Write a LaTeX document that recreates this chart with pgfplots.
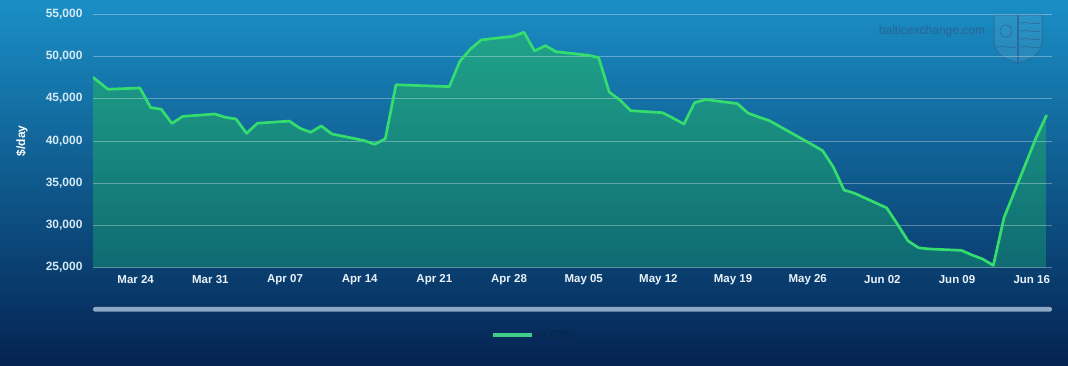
\documentclass[border=0pt]{standalone}
\usepackage{pgfplots}
\pgfplotsset{compat=1.18}
\usepackage{pgfplotstable}
\usepackage{fontspec}
\setmainfont{Liberation Sans}

\definecolor{bgtop}{HTML}{1A8FC6}
\definecolor{bgmid}{HTML}{10588C}
\definecolor{bgbot}{HTML}{042352}
\definecolor{filltop}{HTML}{20A38A}
\definecolor{fillbot}{HTML}{0F6B72}
\definecolor{linecol}{HTML}{35DC6E}
\definecolor{legline}{HTML}{3FCB8A}
\definecolor{legtext}{HTML}{0B2447}
\definecolor{ytl}{HTML}{D5E9F5}
\definecolor{xtl}{HTML}{EAF2F8}
\definecolor{wm}{HTML}{2A6494}
\definecolor{scroll}{HTML}{8DA7C6}

\pgfplotstableread{
d v
-4.4 47540
-3 46120
0 46270
1 43960
2 43750
3 42070
4 42900
7 43190
8 42800
9 42600
10 40900
11 42090
14 42350
15 41500
16 41020
17 41770
18 40820
21 40050
22 39600
23 40250
24 46650
29 46430
30 49450
31 50900
32 51970
35 52400
36 52870
37 50650
38 51290
39 50570
42 50150
43 49870
44 45770
45 44850
46 43580
49 43340
50 42680
51 42000
52 44530
53 44900
56 44420
57 43300
58 42830
59 42400
60 41700
63 39570
64 38840
65 36900
66 34180
67 33790
70 32070
71 30150
72 28150
73 27330
74 27200
77 27030
78 26480
79 26000
80 25250
81 30900
84 40350
85 43070
}\vltce

\pgfplotsset{
  base/.style={
    scale only axis, width=959pt, height=253.2pt,
    at={(93pt,97.5pt)}, anchor=south west,
    xmin=-4.4, xmax=85.5, ymin=25000, ymax=55000,
    scaled y ticks=false, scaled x ticks=false,
  }
}

\begin{document}
\begin{tikzpicture}
\begin{scope}[x=1pt,y=1pt]
\useasboundingbox (0,0) rectangle (1068,365);
\shade[top color=bgtop, middle color=bgmid, bottom color=bgbot] (0,0) rectangle (1068,365);
% watermark
\node[text=wm, font=\fontsize{12}{14}\selectfont, inner sep=0pt] at (932,333.5) {balticexchange.com};
% shield logo (decorative)
\path[fill=white, fill opacity=0.08, draw=wm, draw opacity=0.7, line width=1pt]
  (994,350) -- (1042,350) -- (1042,324) .. controls (1042,311) and (1030,305) .. (1018,302)
  .. controls (1006,305) and (994,311) .. (994,324) -- cycle;
\draw[wm, line width=1.2pt, opacity=0.8] (1018,350) -- (1018,302);
\foreach \yy in {342,334,326,318}{
  \draw[wm, line width=0.8pt, opacity=0.7] (1020,\yy) .. controls (1026,\yy+2) and (1032,\yy-2) .. (1040,\yy);
}
\draw[wm, line width=0.8pt, opacity=0.7] (1006,334) circle (6);
\draw[wm, line width=0.8pt, opacity=0.7] (996,318) .. controls (1002,320) and (1010,316) .. (1016,318);
% scrollbar
\fill[scroll, rounded corners=2.3pt] (93,53.3) rectangle (1052,58.1);
\end{scope}

% axis 1: area fill
\begin{axis}[base, hide axis]
\addplot[draw=none, top color=filltop, bottom color=fillbot]
  table[x=d, y=v]{\vltce} -- (axis cs:85,25000) -- (axis cs:-4.4,25000) -- cycle;
\end{axis}

% axis 2: grid, labels, line, legend
\begin{axis}[base,
  axis line style={draw=none},
  tick style={draw=none},
  ytick={25000,30000,35000,40000,45000,50000,55000},
  yticklabels={{25,000},{30,000},{35,000},{40,000},{45,000},{50,000},{55,000}},
  xtick={-0.4,6.6,13.6,20.6,27.6,34.6,41.6,48.6,55.6,62.6,69.6,76.6,83.6},
  xticklabels={Mar 24,Mar 31,Apr 07,Apr 14,Apr 21,Apr 28,May 05,May 12,May 19,May 26,Jun 02,Jun 09,Jun 16},
  ymajorgrids,
  major grid style={white, opacity=0.32, line width=0.8pt},
  yticklabel style={anchor=east, inner sep=0pt, xshift=-10.3pt, text=ytl, font=\bfseries\fontsize{12}{14}\selectfont},
  xticklabel style={anchor=center, inner sep=0pt, yshift=-12.5pt, text=xtl, font=\bfseries\fontsize{11.5}{14}\selectfont},
  ylabel={\$/day},
  every axis y label/.style={at={(axis description cs:-0.07404,0.5)}, rotate=90, anchor=center, text=white, font=\bfseries\fontsize{12}{14}\selectfont},
  legend style={at={(axis description cs:0.4578,-0.2666)}, anchor=center, draw=none, fill=none,
    text=legtext, font=\fontsize{11}{13}\selectfont},
  legend image code/.code={\draw[legline, line width=3.3pt] (0pt,0pt) -- (39pt,0pt);},
]
\addplot[linecol, line width=2.7pt, line join=round, no markers] table[x=d, y=v]{\vltce};
\addlegendentry{VLTCE}
\end{axis}
\end{tikzpicture}
\end{document}
